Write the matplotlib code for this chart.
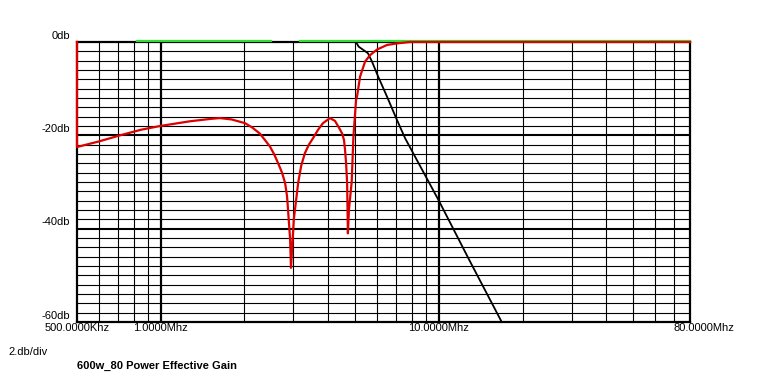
import numpy as np
import matplotlib
matplotlib.use('Agg')
import matplotlib.pyplot as plt

# frequencies in MHz, gain in dB
red_f = [0.5, 0.5, 0.6, 0.714, 0.85, 0.995, 1.27, 1.5, 1.63, 1.8, 2.01, 2.13, 2.27,
         2.37, 2.47, 2.555, 2.64, 2.73, 2.80, 2.845, 2.87, 2.92, 2.94, 2.97, 3.01,
         3.12, 3.20, 3.30, 3.41, 3.53, 3.68, 3.83, 4.06, 4.23, 4.34, 4.49, 4.56,
         4.60, 4.64, 4.68, 4.71, 4.75, 4.86, 4.93, 5.04, 5.08, 5.21, 5.43, 5.66,
         6.0, 6.51, 7.07, 7.88, 80.0]
red_db = [0.0, -22.5, -21.3, -20.0, -18.8, -18.0, -17.0, -16.5, -16.3, -16.6, -17.4,
          -18.3, -19.6, -21.0, -22.4, -24.0, -25.9, -28.0, -30.2, -33.0, -36.0, -42.4,
          -48.4, -44.0, -38.0, -30.2, -26.5, -23.8, -22.0, -20.6, -18.8, -17.4, -16.3,
          -16.9, -18.0, -19.6, -21.0, -23.1, -26.0, -30.2, -41.0, -36.0, -30.0, -20.3,
          -12.4, -11.7, -7.4, -4.2, -2.8, -1.6, -0.64, -0.3, 0.0, 0.0]

black_f = [0.5, 5.0, 5.08, 5.15, 5.56, 5.75, 6.05, 6.51, 7.07, 7.56, 10.0, 12.94, 16.83]
black_db = [0.0, 0.0, -0.4, -1.0, -2.4, -4.2, -7.4, -11.7, -16.7, -20.6, -34.0, -47.0, -60.0]

green_f = [0.82, 2.5, 2.8, 3.17, 80.0]
green_db = [0.2, 0.2, np.nan, 0.2, 0.2]

y_labels = ['0db', '-20db', '-40db', '-60db']
y_label_vals = [0, -20, -40, -60]
x_labels = ['500.0000Khz', '1.0000Mhz', '10.0000Mhz', '80.0000Mhz']
x_label_vals = [0.5, 1.0, 10.0, 80.0]

plt.rcParams['font.family'] = ['Liberation Sans', 'DejaVu Sans']

fig = plt.figure(figsize=(7.68, 3.80), dpi=100)
ax = fig.add_axes([77 / 768, 1 - 322 / 380, 613 / 768, 280 / 380])
ax.set_xscale('log')
ax.set_xlim(0.5, 80)
ax.set_ylim(-60, 0)
ax.set_xticks([])
ax.set_yticks([])
ax.minorticks_off()

# grid
for v in range(-58, 0, 2):
    lw = 1.5 if v in (-20, -40) else 0.8
    ax.axhline(v, color='black', lw=lw, zorder=1)
minor_f = [0.6, 0.7, 0.8, 0.9] + list(range(2, 10)) + list(range(20, 80, 10))
for f in minor_f:
    ax.axvline(f, color='black', lw=0.8, zorder=1)
for f in [1.0, 10.0]:
    ax.axvline(f, color='black', lw=1.6, zorder=1)
for s in ax.spines.values():
    s.set_linewidth(1.6)

ax.plot(black_f, black_db, color='black', lw=1.3, zorder=3, clip_on=False)
ax.plot(green_f, green_db, color='#33dd33', lw=1.6, zorder=4, clip_on=False)
ax.plot(red_f, red_db, color='#dd0000', lw=1.6, zorder=5, clip_on=False)

for lab, v in zip(y_labels, y_label_vals):
    ax.annotate(lab, (0.5, v), xytext=(-5, 1), textcoords='offset points',
                ha='right', va='bottom', fontsize=8, annotation_clip=False)
x_offsets = [0, 0, 0, 10]
for lab, f, off in zip(x_labels, x_label_vals, x_offsets):
    ax.annotate(lab, (f, -60), xytext=(off, -1), textcoords='offset points',
                ha='center', va='top', fontsize=8, annotation_clip=False)

fig.text(8 / 768, 1 - 352 / 380, '2.db/div', fontsize=8, va='center')
fig.text(77 / 768, 1 - 366 / 380, '600w_80 Power Effective Gain', fontsize=8,
         fontweight='bold', va='center')

fig.savefig('out.png', dpi=100, facecolor='white')
